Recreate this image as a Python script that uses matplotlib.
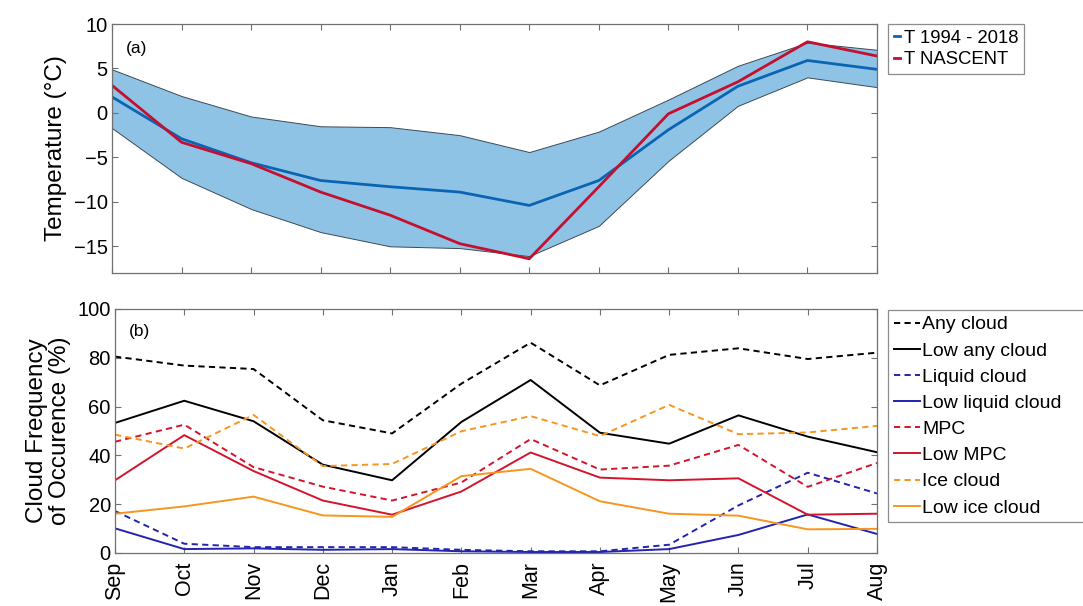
import matplotlib
matplotlib.use("Agg")
import matplotlib.pyplot as plt
import numpy as np

plt.rcParams['font.family'] = ['Liberation Sans', 'DejaVu Sans']

months = ['Sep', 'Oct', 'Nov', 'Dec', 'Jan', 'Feb', 'Mar', 'Apr', 'May', 'Jun', 'Jul', 'Aug']

# Temperature climatology (1994-2018) and NASCENT year
t_mean = [1.8, -2.9, -5.6, -7.6, -8.3, -8.9, -10.4, -7.6, -1.9, 3.0, 5.9, 4.9]
t_upper = [4.9, 1.9, -0.4, -1.5, -1.6, -2.5, -4.4, -2.1, 1.5, 5.3, 7.9, 7.1]
t_lower = [-1.7, -7.3, -10.8, -13.4, -15.0, -15.2, -16.1, -12.7, -5.4, 0.8, 4.0, 2.9]
t_nascent = [3.1, -3.3, -5.7, -8.9, -11.5, -14.7, -16.4, -8.3, -0.1, 3.5, 8.0, 6.4]

# Cloud frequency of occurrence (%)
any_cloud = [80.5, 76.8, 75.4, 54.4, 49.0, 69.4, 86.2, 68.7, 81.2, 83.9, 79.5, 82.1]
low_any_cloud = [53.3, 62.4, 54.0, 36.2, 29.8, 53.7, 70.9, 49.3, 44.8, 56.4, 47.7, 41.3]
liquid_cloud = [17.2, 3.8, 2.4, 2.4, 2.4, 1.3, 0.7, 0.7, 3.4, 19.5, 32.9, 24.4]
low_liquid_cloud = [10.1, 1.6, 1.9, 1.3, 1.6, 0.7, 0.4, 0.4, 1.6, 7.4, 15.8, 7.8]
mpc = [45.6, 52.6, 35.2, 27.2, 21.5, 28.9, 46.7, 34.2, 35.8, 44.3, 27.1, 36.9]
low_mpc = [29.8, 48.3, 33.6, 21.5, 15.7, 25.2, 41.2, 30.9, 29.8, 30.6, 15.7, 16.1]
ice_cloud = [48.5, 42.8, 56.6, 35.6, 36.5, 49.9, 56.1, 47.9, 60.7, 48.7, 49.4, 52.1]
low_ice_cloud = [16.1, 19.1, 23.1, 15.4, 14.8, 31.5, 34.5, 21.2, 16.1, 15.3, 9.7, 9.9]

x = np.arange(len(months))

BLUE_T = '#0A64B4'
RED_T = '#C4102E'
BAND = '#8FC3E6'
BLACK = '#000000'
BLUE = '#2323B0'
RED = '#D3142C'
ORANGE = '#F7951E'
SPINE = '#707070'
DASH = (0, (3.2, 2.2))

W, H = 1083, 606
fig = plt.figure(figsize=(W / 100, H / 100), dpi=100)


def px_axes(left, top, right, bottom):
    return fig.add_axes([left / W, 1 - bottom / H, (right - left) / W, (bottom - top) / H])


ax1 = px_axes(112, 24, 877, 273)
ax2 = px_axes(115, 309, 877, 553)


def style(ax):
    for s in ax.spines.values():
        s.set_color(SPINE)
        s.set_linewidth(0.9)
    ax.tick_params(direction='in', top=True, right=True, length=4, width=0.8,
                   color=SPINE, labelsize=14.5, pad=3)
    ax.set_xlim(x[0], x[-1])
    ax.set_xticks(x)


# (a) temperature
style(ax1)
ax1.fill_between(x, t_lower, t_upper, facecolor=BAND, edgecolor='#3d4a55', linewidth=0.7)
ax1.plot(x, t_mean, color=BLUE_T, lw=2.0, label='T 1994 - 2018')
ax1.plot(x, t_nascent, color=RED_T, lw=2.0, label='T NASCENT')
ax1.set_ylim(-18, 10)
ax1.set_yticks([-15, -10, -5, 0, 5, 10])
ax1.set_xticklabels([])
ax1.set_ylabel('Temperature (°C)', fontsize=17.5, labelpad=5)
ax1.text(0.018, 0.93, '(a)', transform=ax1.transAxes, fontsize=12.5, va='top', ha='left')
leg1 = ax1.legend(loc='upper left', bbox_to_anchor=(888 / W, 1 - 24 / H), bbox_transform=fig.transFigure,
                  fontsize=13.3, handlelength=0.35, handletextpad=0.2, borderpad=0.3,
                  labelspacing=0.25, frameon=True, fancybox=False, borderaxespad=0)
leg1.get_frame().set_edgecolor(SPINE)
leg1.get_frame().set_linewidth(0.9)

# (b) cloud frequency of occurrence
style(ax2)
ax2.plot(x, any_cloud, color=BLACK, lw=1.4, ls=DASH, label='Any cloud')
ax2.plot(x, low_any_cloud, color=BLACK, lw=1.4, label='Low any cloud')
ax2.plot(x, liquid_cloud, color=BLUE, lw=1.4, ls=DASH, label='Liquid cloud')
ax2.plot(x, low_liquid_cloud, color=BLUE, lw=1.4, label='Low liquid cloud')
ax2.plot(x, mpc, color=RED, lw=1.4, ls=DASH, label='MPC')
ax2.plot(x, low_mpc, color=RED, lw=1.4, label='Low MPC')
ax2.plot(x, ice_cloud, color=ORANGE, lw=1.4, ls=DASH, label='Ice cloud')
ax2.plot(x, low_ice_cloud, color=ORANGE, lw=1.4, label='Low ice cloud')
ax2.set_ylim(0, 100)
ax2.set_yticks([0, 20, 40, 60, 80, 100])
ax2.set_xticklabels(months, rotation=90, fontsize=15.5)
ax2.tick_params(axis='x', pad=6)
ax2.set_ylabel('Cloud Frequency\nof Occurence (%)', fontsize=17.5, labelpad=5, linespacing=1.05)
ax2.text(0.018, 0.94, '(b)', transform=ax2.transAxes, fontsize=12.5, va='top', ha='left')
# legend box runs past the right edge of the figure
leg2 = ax2.legend(loc='upper left', bbox_to_anchor=(888 / W, 0, 0.25, 1 - 310 / H),
                  bbox_transform=fig.transFigure, mode='expand',
                  fontsize=14, handlelength=1.35, handletextpad=0.1, borderpad=0.3,
                  labelspacing=0.44, frameon=True, fancybox=False, borderaxespad=0)
leg2.get_frame().set_edgecolor(SPINE)
leg2.get_frame().set_linewidth(0.9)

fig.savefig('out.png', dpi=100, facecolor='white')
